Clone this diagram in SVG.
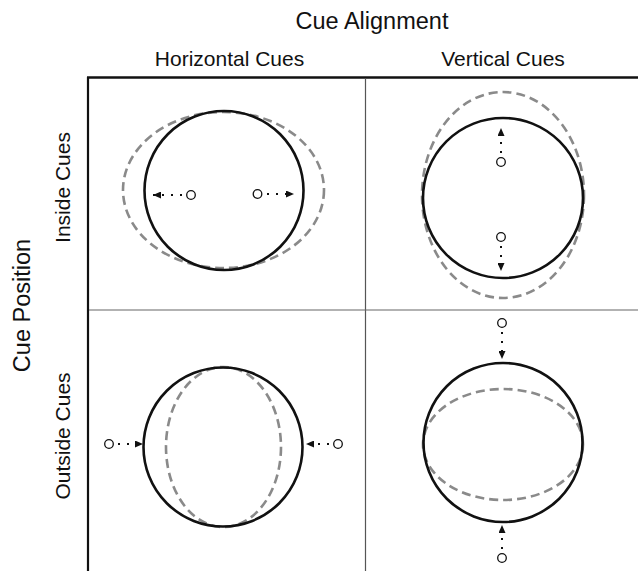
<svg xmlns="http://www.w3.org/2000/svg" width="638" height="571" viewBox="0 0 638 571">
  <style>
    .lbl { font-family: "Liberation Sans", Arial, sans-serif; fill: #111; }
    .main { font-size: 23.5px; }
    .sub { font-size: 21px; }
    .solid { fill: none; stroke: #111; stroke-width: 2.6; }
    .dash { fill: none; stroke: #8a8a8a; stroke-width: 2.6; stroke-dasharray: 9 5; }
    .cue { fill: #fff; stroke: #111; stroke-width: 1.3; }
    .dot { fill: none; stroke: #111; stroke-width: 2; stroke-dasharray: 2 7; marker-end: url(#ah); }
  </style>
  <defs>
    <marker id="ah" markerWidth="8" markerHeight="7" refX="8" refY="3.5" orient="auto" markerUnits="userSpaceOnUse">
      <path d="M0,0 L8,3.5 L0,7 Z" fill="#111"/>
    </marker>
  </defs>
  <rect width="638" height="571" fill="#fff"/>

  <g id="labels">
    <text class="lbl main" x="372" y="29" text-anchor="middle">Cue Alignment</text>
    <text class="lbl sub" x="229.5" y="66" text-anchor="middle">Horizontal Cues</text>
    <text class="lbl sub" x="503" y="66" text-anchor="middle">Vertical Cues</text>
    <text class="lbl main" transform="translate(30,305.5) rotate(-90)" text-anchor="middle">Cue Position</text>
    <text class="lbl sub" transform="translate(70,187.5) rotate(-90)" text-anchor="middle">Inside Cues</text>
    <text class="lbl sub" transform="translate(70,436) rotate(-90)" text-anchor="middle">Outside Cues</text>
  </g>

  <g id="grid">
    <line x1="87" y1="77.5" x2="638" y2="77.5" stroke="#111" stroke-width="2.6"/>
    <line x1="88" y1="77" x2="88" y2="571" stroke="#111" stroke-width="2.2"/>
    <line x1="365.5" y1="78" x2="365.5" y2="571" stroke="#555" stroke-width="1.2"/>
    <line x1="89" y1="310" x2="638" y2="310" stroke="#666" stroke-width="1.2"/>
  </g>

  <g id="cell-inside-horizontal">
    <ellipse class="dash" cx="223.5" cy="190" rx="100.5" ry="78"/>
    <circle class="solid" cx="224" cy="190.5" r="79.5"/>
    <circle class="cue" cx="191" cy="195" r="4.3"/>
    <circle class="cue" cx="257.5" cy="194" r="4.3"/>
  </g>

  <g id="cell-inside-vertical">
    <ellipse class="dash" cx="503" cy="195" rx="81" ry="103"/>
    <circle class="solid" cx="503" cy="198" r="80"/>
    <circle class="cue" cx="501" cy="162" r="4.3"/>
    <circle class="cue" cx="501" cy="237" r="4.3"/>
  </g>

  <g id="cell-outside-horizontal">
    <ellipse class="dash" cx="223.5" cy="447" rx="57.5" ry="80"/>
    <circle class="solid" cx="223" cy="447" r="79.5"/>
    <circle class="cue" cx="109" cy="444" r="4.3"/>
    <circle class="cue" cx="338" cy="444" r="4.3"/>
  </g>

  <g id="cell-outside-vertical">
    <ellipse class="dash" cx="503" cy="444.5" rx="80" ry="55.5"/>
    <circle class="solid" cx="503" cy="442.5" r="79.5"/>
    <circle class="cue" cx="502" cy="323" r="4.3"/>
    <circle class="cue" cx="502" cy="558" r="4.3"/>
  </g>

  <g id="connectors">
    <path class="dot" d="M182,195 L153,195"/>
    <path class="dot" d="M267,194 L294,194"/>
    <path class="dot" d="M501,153 L501,128"/>
    <path class="dot" d="M501,246 L501,271"/>
    <path class="dot" d="M118,444 L143,444"/>
    <path class="dot" d="M329,444 L306,444"/>
    <path class="dot" d="M502,332 L502,359"/>
    <path class="dot" d="M502,549 L502,525"/>
  </g>
</svg>
